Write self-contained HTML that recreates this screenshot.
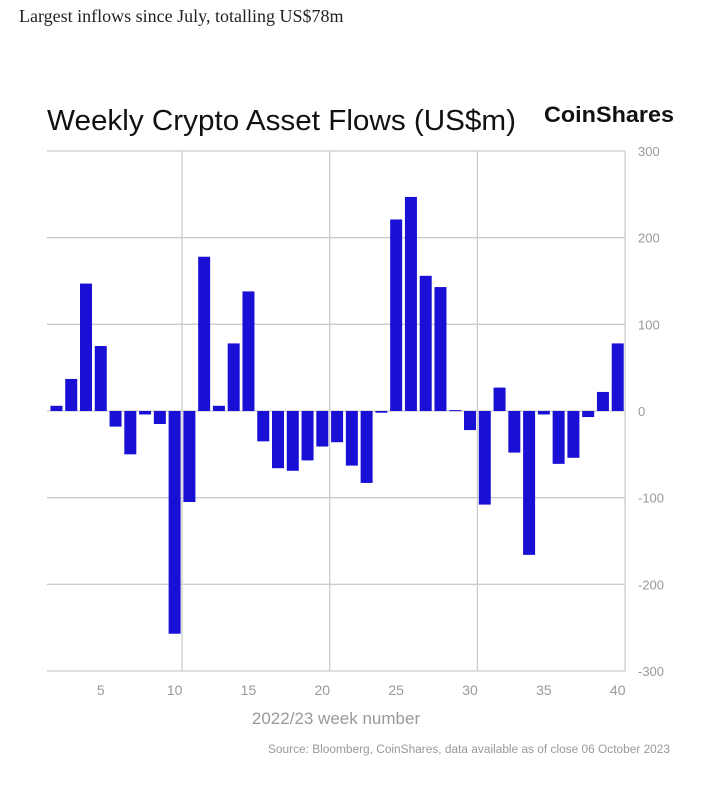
<!DOCTYPE html>
<html><head><meta charset="utf-8"><style>
body{margin:0;background:#fff;width:717px;height:795px;overflow:hidden;position:relative;font-family:"Liberation Sans",sans-serif}
.hdr{position:absolute;left:19px;top:6px;font-family:"Liberation Serif",serif;font-size:18px;color:#222}
</style></head><body>
<div class="hdr">Largest inflows since July, totalling US$78m</div>
<svg id="c" width="717" height="795" style="position:absolute;left:0;top:0">
<text x="47" y="130" font-size="29" fill="#111" textLength="469" lengthAdjust="spacingAndGlyphs">Weekly Crypto Asset Flows (US$m)</text>
<text x="544" y="122" font-size="22" font-weight="600" fill="#111" textLength="130" lengthAdjust="spacingAndGlyphs">CoinShares</text>
<text x="336" y="724" font-size="17" fill="#999" text-anchor="middle">2022/23 week number</text>
<text x="268" y="753" font-size="11.5" fill="#999" textLength="402" lengthAdjust="spacingAndGlyphs">Source: Bloomberg, CoinShares, data available as of close 06 October 2023</text>
<g id="g"></g>
</svg>
<script>
const weeks=[2,3,4,5,6,7,8,9,10,11,12,13,14,15,16,17,18,19,20,21,22,23,24,25,26,27,28,29,30,31,32,33,34,35,36,37,38,39,40];
const flows=[6,37,147,75,-18,-50,-4,-15,-257,-105,178,6,78,138,-35,-66,-69,-57,-41,-36,-63,-83,-2,221,247,156,143,1,-22,-108,27,-48,-166,-4,-61,-54,-7,22,78];
const yTicks=[300,200,100,0,-100,-200,-300];
const xTicks=[5,10,15,20,25,30,35,40];
const vLines=[10.5,20.5,30.5];
const NS='http://www.w3.org/2000/svg';
const X=w=>182+(w-10.5)*14.77;
const Y=v=>411-v*260/300;
const g=document.getElementById('g');
function mk(t,a){const e=document.createElementNS(NS,t);for(const k in a)e.setAttribute(k,a[k]);g.appendChild(e);return e;}
yTicks.forEach(v=>{
 const l=mk('line',{x1:47,x2:625,y1:Y(v),y2:Y(v),stroke:'#ccc','stroke-width':1.3});
 
 
 const t=mk('text',{x:638,y:Y(v)+5,'font-size':13,fill:'#999'});t.textContent=v;
 
 
});
vLines.concat([40.5]).forEach(w=>{
 const l=mk('line',{x1:X(w),x2:X(w),y1:Y(300),y2:Y(-300),stroke:'#ccc','stroke-width':1.3});
 
 
});
xTicks.forEach(w=>{
 const t=mk('text',{x:X(w),y:695,'font-size':14,fill:'#999','text-anchor':'middle'});t.textContent=w;
 
 
});
weeks.forEach((w,i)=>{
 const v=flows[i];
 const r=mk('rect',{x:X(w)-6,width:12,y:Math.min(Y(v),Y(0)),height:Math.max(1,Math.abs(Y(v)-Y(0))),fill:'#1a0fd4'});
 
 
});
</script>
</body></html>
